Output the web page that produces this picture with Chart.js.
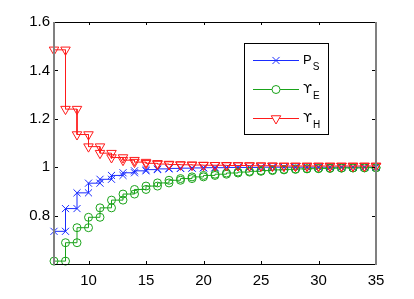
<!DOCTYPE html>
<html><head><meta charset="utf-8">
<script src="https://cdn.jsdelivr.net/npm/chart.js@4"></script>
<style>html,body{margin:0;padding:0;background:#fff}#wrap{width:414px;height:299px}</style>
</head><body><div id="wrap"><canvas id="c" width="414" height="299"></canvas></div>
<script>
const xValues = [7,8,9,10,11,12,13,14,15,16,17,18,19,20,21,22,23,24,25,26,27,28,29,30,31,32,33,34,35];
const psValues = [0.735,0.829,0.894,0.934,0.950,0.966,0.977,0.985,0.990,0.993,0.995,0.996,0.997,0.998,0.998,0.999,0.999,0.999,1.0,1.0,1.0,1.0,1.0,1.0,1.0,1.0,1.0,1.0,1.0];
const ueValues = [0.612,0.688,0.750,0.793,0.832,0.864,0.889,0.908,0.922,0.935,0.946,0.953,0.960,0.966,0.971,0.976,0.980,0.983,0.986,0.989,0.991,0.993,0.994,0.995,0.996,0.997,0.997,0.998,0.998];
const uhValues = [1.485,1.240,1.135,1.085,1.058,1.040,1.029,1.021,1.016,1.013,1.011,1.010,1.009,1.008,1.008,1.007,1.007,1.006,1.006,1.005,1.005,1.005,1.005,1.005,1.005,1.005,1.005,1.005,1.005];
const xTickValues = [10,15,20,25,30,35];
const yTickValues = [0.8,1,1.2,1.4,1.6];
const seriesNames = ['P','\u03D2','\u03D2'];
const seriesSubs = ['S','E','H'];
const seriesColors = ['#1a2cff','#1aa31a','#ff1a1a'];

function stairs(xs, ys){
  const pts = [];
  for (let i = 0; i < xs.length; i++){
    pts.push({x: xs[i], y: ys[i]});
    if (i < xs.length - 1) pts.push({x: xs[i+1], y: ys[i]});
  }
  return pts;
}

const FONT = '"Liberation Sans", Arial, Helvetica, sans-serif';
const SYMFONT = '"DejaVu Sans", "Liberation Sans", sans-serif';

const markerStyles = [
  {pointStyle:'crossRot', pointRadius:5, pointRotation:0},
  {pointStyle:'circle', pointRadius:4, pointRotation:0},
  {pointStyle:'triangle', pointRadius:5.5, pointRotation:180}
];

const allSeries = [psValues, ueValues, uhValues];
const datasets = allSeries.map((vals, i) => ({
  label: seriesNames[i] + seriesSubs[i],
  data: stairs(xValues, vals),
  borderColor: seriesColors[i],
  backgroundColor: 'rgba(0,0,0,0)',
  pointBorderColor: seriesColors[i],
  pointBackgroundColor: 'rgba(0,0,0,0)',
  borderWidth: 1,
  pointBorderWidth: 1,
  pointStyle: markerStyles[i].pointStyle,
  pointRadius: markerStyles[i].pointRadius,
  pointRotation: markerStyles[i].pointRotation,
  tension: 0,
  fill: false,
  clip: false,
  order: 2 - i
}));

const frame = {
  id: 'frame',
  afterDraw(chart){
    const ctx = chart.ctx;
    const a = chart.chartArea;
    const xs = chart.scales.x, ys = chart.scales.y;
    ctx.save();
    ctx.strokeStyle = '#000';
    ctx.lineWidth = 1;
    ctx.beginPath();
    xTickValues.forEach(v => {
      const px = Math.round(xs.getPixelForValue(v)) + 0.5;
      ctx.moveTo(px, a.bottom); ctx.lineTo(px, a.bottom - 3);
      ctx.moveTo(px, a.top); ctx.lineTo(px, a.top + 3);
    });
    yTickValues.forEach(v => {
      const py = Math.round(ys.getPixelForValue(v)) + 0.5;
      ctx.moveTo(a.left, py); ctx.lineTo(a.left + 4, py);
      ctx.moveTo(a.right, py); ctx.lineTo(a.right - 4, py);
    });
    ctx.stroke();
    ctx.beginPath();
    ctx.strokeStyle = '#000';
    ctx.lineWidth = 1;
    ctx.moveTo(a.left, Math.round(a.top) + 0.5); ctx.lineTo(a.right, Math.round(a.top) + 0.5);
    ctx.moveTo(a.left, Math.round(a.bottom) + 0.5); ctx.lineTo(a.right, Math.round(a.bottom) + 0.5);
    ctx.stroke();
    ctx.beginPath();
    ctx.strokeStyle = '#808080';
    ctx.lineWidth = 2;
    ctx.moveTo(Math.round(a.left), a.top); ctx.lineTo(Math.round(a.left), a.bottom + 1);
    ctx.moveTo(Math.round(a.right), a.top); ctx.lineTo(Math.round(a.right), a.bottom + 1);
    ctx.stroke();

    // legend
    const L = 244.5, T = 43.5, R = 328.5, B = 134.5;
    ctx.fillStyle = '#fff';
    ctx.fillRect(L, T, R - L, B - T);
    ctx.strokeStyle = '#000';
    ctx.lineWidth = 1;
    ctx.strokeRect(L, T, R - L, B - T);
    const rowsY = [60.5, 89.5, 118.5];
    for (let i = 0; i < 3; i++){
      const y = rowsY[i];
      ctx.strokeStyle = seriesColors[i];
      ctx.lineWidth = 1;
      ctx.beginPath(); ctx.moveTo(253, y); ctx.lineTo(299, y); ctx.stroke();
      ctx.fillStyle = '#fff';
      ctx.strokeStyle = seriesColors[i];
      Chart.helpers.drawPoint(ctx, {pointStyle: markerStyles[i].pointStyle, radius: markerStyles[i].pointRadius, rotation: markerStyles[i].pointRotation, borderWidth: 1}, 276, y);
      ctx.fillStyle = '#000';
      ctx.textAlign = 'left';
      ctx.textBaseline = 'alphabetic';
      ctx.font = (i === 0 ? '13px ' + FONT : '13px ' + SYMFONT);
      ctx.fillText(seriesNames[i], 303, y + 3);
      const w = ctx.measureText(seriesNames[i]).width;
      ctx.font = '10px ' + FONT;
      ctx.fillText(seriesSubs[i], 303 + w + 1, y + 9.5);
    }
    ctx.restore();
  }
};

new Chart(document.getElementById('c'), {
  type: 'line',
  data: { datasets },
  options: {
    responsive: false,
    devicePixelRatio: 1,
    animation: false,
    events: [],
    layout: { padding: { top: 22, right: 38, left: 0, bottom: 0 } },
    plugins: { legend: { display: false }, tooltip: { enabled: false } },
    scales: {
      x: {
        type: 'linear', min: 7, max: 35,
        grid: { display: false, drawTicks: false },
        border: { display: false },
        afterBuildTicks: s => { s.ticks = xTickValues.map(v => ({value: v})); },
        afterFit: s => { s.height = 35; },
        ticks: { padding: 8, color: '#000', font: { family: FONT, size: 15 }, maxRotation: 0, autoSkip: false,
          callback: v => String(v) }
      },
      y: {
        type: 'linear', min: 0.6, max: 1.6,
        grid: { display: false, drawTicks: false },
        border: { display: false },
        afterBuildTicks: s => { s.ticks = yTickValues.map(v => ({value: v})); },
        afterFit: s => { s.width = 54; },
        ticks: { padding: 4, color: '#000', font: { family: FONT, size: 15 }, autoSkip: false,
          callback: v => String(Math.round(v * 10) / 10) }
      }
    }
  },
  plugins: [frame]
});
</script>
</body></html>
